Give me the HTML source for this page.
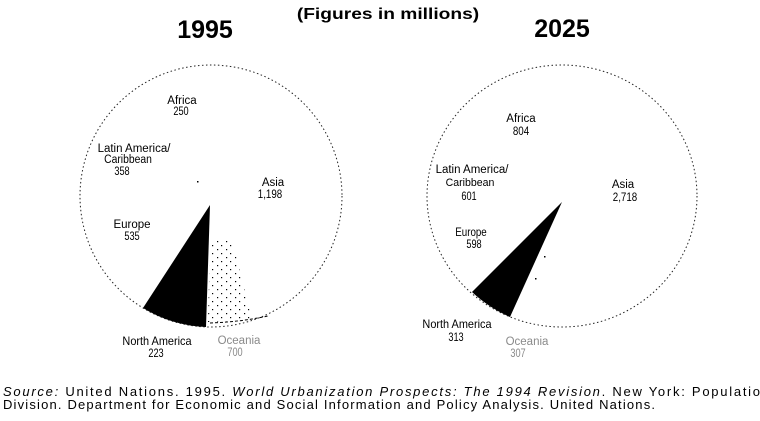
<!DOCTYPE html>
<html>
<head>
<meta charset="utf-8">
<style>
html,body{margin:0;padding:0;background:#fff;}
svg{display:block;}
text{font-family:"Liberation Sans","DejaVu Sans",sans-serif;fill:#000;}
.lbl{font-size:11.5px;}
.faint{fill:#8a8a8a;}
</style>
</head>
<body>
<svg width="760" height="421" viewBox="0 0 760 421" xmlns="http://www.w3.org/2000/svg">
<defs>
<pattern id="stip" width="9" height="8" patternUnits="userSpaceOnUse">
<rect x="1" y="1" width="1.2" height="1.2" fill="#000"/>
<rect x="5" y="5" width="1.2" height="1.2" fill="#000"/>
</pattern>
<clipPath id="oc95">
<path d="M210,240 L232,240 L252,320 L208,322 Z"/>
</clipPath>
</defs>
<rect width="760" height="421" fill="#fff"/>

<!-- Header -->
<text text-anchor="middle" font-size="15.5" font-weight="bold" transform="translate(388,19) scale(1.24,1)">(Figures in millions)</text>
<text x="205" y="38" text-anchor="middle" font-size="25" font-weight="bold">1995</text>
<text x="562" y="37" text-anchor="middle" font-size="25" font-weight="bold">2025</text>

<!-- 1995 pie -->
<ellipse cx="211" cy="196" rx="131" ry="131" fill="none" stroke="#222" stroke-width="1" stroke-dasharray="1.5 2.5"/>
<rect x="200" y="230" width="60" height="100" fill="url(#stip)" clip-path="url(#oc95)"/>
<path d="M210,205 L143,308 A131,131 0 0,0 206,327 Z" fill="#000"/>
<path d="M210,323 Q240,322 268,316" fill="none" stroke="#000" stroke-width="1" stroke-dasharray="3 2"/>

<text class="lbl" x="182" y="104" text-anchor="middle">Africa</text>
<text class="lbl" text-anchor="middle" transform="translate(181,115) scale(0.8,1)">250</text>
<text class="lbl" x="134" y="152" text-anchor="middle">Latin America/</text>
<text class="lbl" text-anchor="middle" transform="translate(128,163) scale(0.9,1)">Caribbean</text>
<text class="lbl" text-anchor="middle" transform="translate(122,175) scale(0.8,1)">358</text>
<text class="lbl" x="273" y="186" text-anchor="middle">Asia</text>
<text class="lbl" text-anchor="middle" transform="translate(270,198) scale(0.85,1)">1,198</text>
<text class="lbl" x="132" y="228" text-anchor="middle">Europe</text>
<text class="lbl" text-anchor="middle" transform="translate(132,240) scale(0.8,1)">535</text>
<text class="lbl" text-anchor="middle" transform="translate(157,345) scale(0.95,1)">North America</text>
<text class="lbl" text-anchor="middle" transform="translate(156,357) scale(0.8,1)">223</text>
<text class="lbl faint" x="239" y="344" text-anchor="middle">Oceania</text>
<text class="lbl faint" text-anchor="middle" transform="translate(235,356) scale(0.8,1)">700</text>
<rect x="197" y="181" width="1.5" height="1.5" fill="#000"/>

<!-- 2025 pie -->
<ellipse cx="562" cy="196" rx="135" ry="131" fill="none" stroke="#222" stroke-width="1" stroke-dasharray="1.5 2.5"/>
<path d="M562,202 L472,292 A135,131 0 0,0 510,317 Z" fill="#000"/>
<rect x="544" y="256" width="1.5" height="1.5" fill="#000"/>
<rect x="535" y="278" width="1.5" height="1.5" fill="#000"/>

<text class="lbl" x="521" y="122" text-anchor="middle">Africa</text>
<text class="lbl" text-anchor="middle" transform="translate(521,135) scale(0.85,1)">804</text>
<text class="lbl" x="472" y="173" text-anchor="middle">Latin America/</text>
<text class="lbl" text-anchor="middle" transform="translate(470,186) scale(0.92,1)">Caribbean</text>
<text class="lbl" text-anchor="middle" transform="translate(469,200) scale(0.8,1)">601</text>
<text class="lbl" x="623" y="188" text-anchor="middle">Asia</text>
<text class="lbl" text-anchor="middle" transform="translate(625,201) scale(0.85,1)">2,718</text>
<text class="lbl" text-anchor="middle" transform="translate(471,236) scale(0.85,1)">Europe</text>
<text class="lbl" text-anchor="middle" transform="translate(474,248) scale(0.8,1)">598</text>
<text class="lbl" text-anchor="middle" transform="translate(457,328) scale(0.95,1)">North America</text>
<text class="lbl" text-anchor="middle" transform="translate(456,341) scale(0.8,1)">313</text>
<text class="lbl faint" x="527" y="345" text-anchor="middle">Oceania</text>
<text class="lbl faint" text-anchor="middle" transform="translate(518,357) scale(0.8,1)">307</text>

<!-- Source -->
<text x="3" y="396" font-size="13" textLength="766" lengthAdjust="spacing"><tspan font-style="italic">Source:</tspan> United Nations. 1995. <tspan font-style="italic">World Urbanization Prospects: The 1994 Revision</tspan>. New York: Population</text>
<text x="3" y="409" font-size="13" textLength="652" lengthAdjust="spacing">Division. Department for Economic and Social Information and Policy Analysis. United Nations.</text>
</svg>
</body>
</html>
